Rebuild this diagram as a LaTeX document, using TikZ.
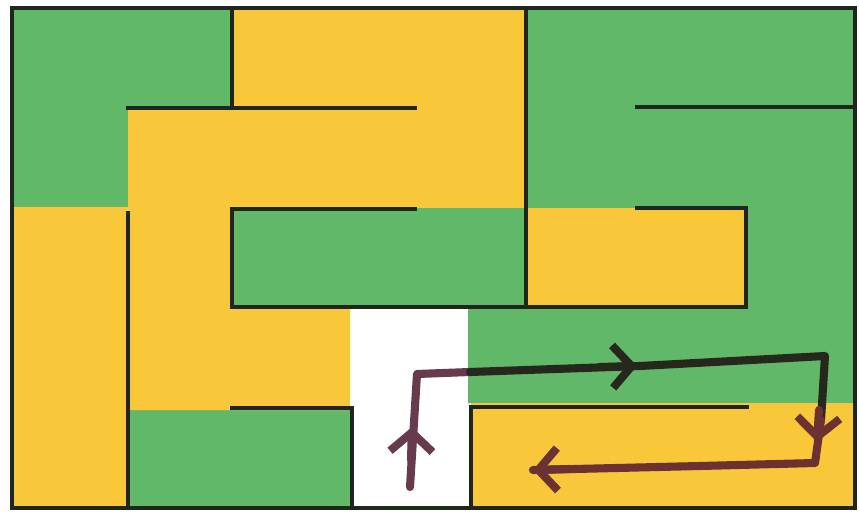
\documentclass[tikz,border=0pt]{standalone}
\usepackage{xcolor}
\usepackage{tikz}
\usetikzlibrary{arrows.meta}
\definecolor{mazegreen}{RGB}{96,184,104}
\definecolor{mazeyellow}{RGB}{248,200,58}
\definecolor{wallgray}{RGB}{30,38,30}
\definecolor{pathplum}{RGB}{104,58,78}
\definecolor{pathdark}{RGB}{38,40,30}
\definecolor{pathbrown}{RGB}{108,50,50}

\begin{document}
\begin{tikzpicture}[x=0.02cm, y=-0.02cm,
    wall/.style={line width=2.8pt, wallgray, line cap=rect},
    route/.style={line width=4.6pt, line cap=round, line join=round},
    chevron/.style={route, -{Straight Barb[length=0.38cm, width=0.85cm]}}]
  \useasboundingbox (0,0) rectangle (859,513);
  \fill[white] (0,0) rectangle (859,513);

  % Green rooms
  \fill[mazegreen] (12,8) -- (232,8) -- (232,108) -- (128,108) -- (128,207) -- (12,207) -- cycle;
  \fill[mazegreen] (526,8) -- (855,8) -- (855,403) -- (468,403) -- (468,307) -- (526,307) -- cycle;
  \fill[mazegreen] (232,208) rectangle (526,307);
  \fill[mazegreen] (128,410) rectangle (352,508);

  % Yellow rooms
  \fill[mazeyellow] (232,8) -- (526,8) -- (526,208) -- (232,208) -- (232,307) -- (350,307)
    -- (350,410) -- (128,410) -- (128,108) -- (232,108) -- cycle;
  \fill[mazeyellow] (12,207) rectangle (128,508);
  \fill[mazeyellow] (526,208) rectangle (746,307);
  \fill[mazeyellow] (471,403) rectangle (855,508);

  % Walls
  \draw[wall] (12,8) rectangle (855,508);
  \draw[wall] (232,8) -- (232,108);
  \draw[wall] (128,108) -- (415,108);
  \draw[wall] (526,8) -- (526,307);
  \draw[wall] (637,107) -- (855,107);
  \draw[wall] (415,209) -- (232,209) -- (232,307) -- (746,307) -- (746,208) -- (637,208);
  \draw[wall] (128,213) -- (128,508);
  \draw[wall] (232,408) -- (352,408) -- (352,508);
  \draw[wall] (471,508) -- (471,407) -- (747,407);

  % Route
  \draw[route, pathplum] (410,487) -- (417,374) -- (470,372);
  \draw[route, pathdark] (470,372) -- (640,366) -- (825,356) -- (821,420);
  \draw[route, pathbrown] (821,420) -- (815,463) -- (700,466) -- (533,470);

  % Direction marks
  \draw[chevron, pathplum] (411,460) -- (412,427);
  \draw[chevron, pathdark] (600,367) -- (637,366);
  \draw[chevron, pathbrown] (819,410) -- (817,442);
  \draw[chevron, pathbrown] (570,469) -- (533,470);
\end{tikzpicture}
\end{document}
